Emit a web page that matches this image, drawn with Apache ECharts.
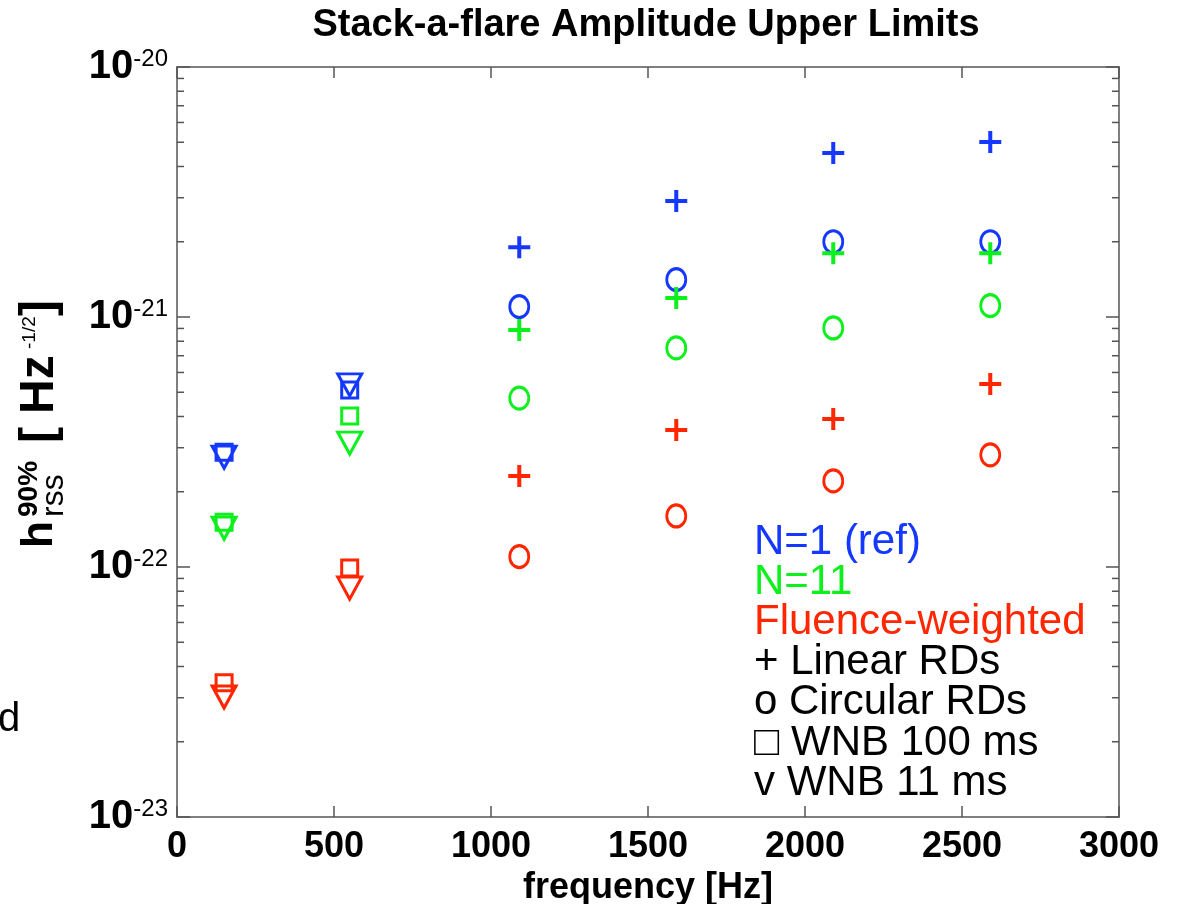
<!DOCTYPE html>
<html>
<head>
<meta charset="utf-8">
<script src="https://cdn.jsdelivr.net/npm/echarts@6/dist/echarts.min.js"></script>
<style>
  html, body { margin: 0; padding: 0; background: #fff; }
  #main { width: 1179px; height: 904px; }
</style>
</head>
<body>
<div id="main"></div>
<script>
// frequencies [Hz]
const freqRD  = [1090, 1590, 2090, 2590];
const freqWNB = [150, 550];

// h_rss 90% upper limits
const blueLinear   = [1.90e-21, 2.91e-21, 4.53e-21, 5.01e-21];
const blueCircular = [1.10e-21, 1.41e-21, 2.00e-21, 2.00e-21];
const blueWnb100   = [2.88e-22, 5.10e-22];
const blueWnb11    = [2.75e-22, 5.35e-22];

const greenLinear   = [8.87e-22, 1.19e-21, 1.80e-21, 1.80e-21];
const greenCircular = [4.74e-22, 7.52e-22, 9.04e-22, 1.11e-21];
const greenWnb100   = [1.51e-22, 4.02e-22];
const greenWnb11    = [1.43e-22, 3.13e-22];

const redLinear   = [2.31e-22, 3.53e-22, 3.91e-22, 5.40e-22];
const redCircular = [1.10e-22, 1.60e-22, 2.21e-22, 2.81e-22];
const redWnb100   = [3.44e-23, 9.90e-23];
const redWnb11    = [3.02e-23, 8.24e-23];

// decade tick values of the y axis
const yTicks = [1e-23, 1e-22, 1e-21, 1e-20];

const BLUE = '#1438ff', GREEN = '#0cf01c', RED = '#ff2600';

const legendLines = [
    ['N=1 (ref)', BLUE],
    ['N=11', GREEN],
    ['Fluence-weighted', RED],
    ['+ Linear RDs', '#000'],
    ['o Circular RDs', '#000'],
    ['\u25a1 WNB 100 ms', '#000'],
    ['v WNB 11 ms', '#000']
];

const FONT = '"Liberation Sans", Arial, Helvetica, sans-serif';
const AXIS_COLOR = '#555';

const chart = echarts.init(document.getElementById('main'));

function pairs(xs, ys) {
    return xs.map((x, i) => [x, ys[i]]);
}

const PLUS = 'path://M0,-10L0,10M-10,0L10,0';

function markerSeries(name, xs, ys, color, kind) {
    let s = {
        name: name,
        type: 'scatter',
        data: pairs(xs, ys),
        itemStyle: { color: 'transparent', borderColor: color, borderWidth: 3, opacity: 1 },
        z: 3
    };
    if (kind === 'plus') {
        s.symbol = PLUS;
        s.symbolSize = [22, 22];
        s.itemStyle.borderWidth = 4;
    } else if (kind === 'circle') {
        s.symbol = 'circle';
        s.symbolSize = [19, 22];
    } else if (kind === 'square') {
        s.symbol = 'rect';
        s.symbolSize = [16, 16];
    } else {
        s.symbol = 'triangle';
        s.symbolRotate = 180;
        s.symbolSize = [24, 22];
    }
    return s;
}

// minor tick positions on the log axis
let minorTicks = [];
for (let e = -23; e < -20; e++) {
    for (let m = 2; m <= 9; m++) {
        minorTicks.push([0, m * Math.pow(10, e)]);
    }
}

const minorTickSeries = {
    type: 'custom',
    silent: true,
    clip: false,
    data: minorTicks,
    renderItem: function (params, api) {
        const cs = params.coordSys;
        const y = api.coord([0, api.value(1)])[1];
        const style = { stroke: AXIS_COLOR, lineWidth: 1.5 };
        return {
            type: 'group',
            children: [
                { type: 'line', shape: { x1: cs.x, y1: y, x2: cs.x + 7, y2: y }, style: style },
                { type: 'line', shape: { x1: cs.x + cs.width, y1: y, x2: cs.x + cs.width - 7, y2: y }, style: style }
            ]
        };
    }
};

const yLabelGroup = {
    type: 'group',
    x: 40,
    y: 548,
    rotation: Math.PI / 2,
    children: [
        { type: 'text', x: 0, y: 0, style: { text: 'h', font: 'bold 44px ' + FONT, textVerticalAlign: 'middle' } },
        { type: 'text', x: 31, y: -11, style: { text: '90%', font: 'bold 28px ' + FONT, textVerticalAlign: 'middle' } },
        { type: 'text', x: 31, y: 14, style: { text: 'rss', font: '32px ' + FONT, textVerticalAlign: 'middle' } },
        { type: 'text', x: 105, y: 0, style: { text: '[', font: 'bold 48px ' + FONT, textVerticalAlign: 'middle' } },
        { type: 'text', x: 134, y: 0, style: { text: 'Hz', font: 'bold 48px ' + FONT, textVerticalAlign: 'middle' } },
        { type: 'text', x: 199, y: -10, style: { text: '-1/2', font: '19px ' + FONT, textVerticalAlign: 'middle' } },
        { type: 'text', x: 232, y: 0, style: { text: ']', font: 'bold 48px ' + FONT, textVerticalAlign: 'middle' } }
    ]
};

let graphics = [
    {
        type: 'text', x: 646, y: 26,
        style: { text: 'Stack-a-flare Amplitude Upper Limits', font: 'bold 38px ' + FONT,
                 textAlign: 'center', textVerticalAlign: 'middle', fill: '#000' }
    },
    {
        type: 'text', x: -2, y: 720,
        style: { text: 'd', font: '40px ' + FONT, textVerticalAlign: 'middle', fill: '#000' }
    },
    yLabelGroup
];
legendLines.forEach((l, i) => {
    graphics.push({
        type: 'text', x: 754, y: 542 + i * 40.2,
        style: { text: l[0], font: '42px ' + FONT, textVerticalAlign: 'middle', fill: l[1] }
    });
});

const logLabel = {
    inside: false,
    margin: 9,
    showMinLabel: true,
    showMaxLabel: true,
    hideOverlap: false,
    customValues: yTicks,
    formatter: v => '{b|10}{s|' + Math.round(Math.log10(v)) + '}',
    rich: {
        b: { fontSize: 40, fontWeight: 'bold', fontFamily: FONT, color: '#000', lineHeight: 40 },
        s: { fontSize: 24, fontFamily: FONT, color: '#000', lineHeight: 24, verticalAlign: 'top' }
    }
};

const tickStyle = { inside: true, length: 11, lineStyle: { color: AXIS_COLOR, width: 1.5 } };
const lineStyle = { show: true, onZero: false, lineStyle: { color: AXIS_COLOR, width: 1.5 } };
const yTickStyle = { show: true, inside: true, length: 13, customValues: yTicks,
                     lineStyle: { color: AXIS_COLOR, width: 1.5 } };

const option = {
    animation: false,
    backgroundColor: '#fff',
    grid: { left: 177, right: 60, top: 67, bottom: 87, containLabel: false, outerBoundsMode: 'none' },
    xAxis: [
        {
            type: 'value', min: 0, max: 3000, interval: 500,
            name: 'frequency [Hz]', nameLocation: 'middle', nameGap: 48,
            nameTextStyle: { fontSize: 36, fontWeight: 'bold', fontFamily: FONT, color: '#000' },
            axisLine: lineStyle,
            axisTick: tickStyle,
            axisLabel: { margin: 16, lineHeight: 28, fontSize: 36, fontWeight: 'bold', fontFamily: FONT, color: '#000',
                         formatter: v => String(v), showMinLabel: true, showMaxLabel: true },
            splitLine: { show: false }
        },
        {
            type: 'value', min: 0, max: 3000, interval: 500, position: 'top',
            axisLine: lineStyle,
            axisTick: tickStyle,
            axisLabel: { show: false },
            splitLine: { show: false }
        }
    ],
    yAxis: [
        {
            type: 'log', logBase: 10, min: 1e-23, max: 1e-20,
            axisLine: lineStyle,
            axisTick: yTickStyle,
            axisLabel: logLabel,
            splitLine: { show: false }
        },
        {
            type: 'log', logBase: 10, min: 1e-23, max: 1e-20, position: 'right',
            axisLine: lineStyle,
            axisTick: yTickStyle,
            axisLabel: { show: false },
            splitLine: { show: false }
        }
    ],
    graphic: graphics,
    series: [
        minorTickSeries,
        markerSeries('N=1 linear', freqRD, blueLinear, BLUE, 'plus'),
        markerSeries('N=1 circular', freqRD, blueCircular, BLUE, 'circle'),
        markerSeries('N=1 WNB 100', freqWNB, blueWnb100, BLUE, 'square'),
        markerSeries('N=1 WNB 11', freqWNB, blueWnb11, BLUE, 'triangle'),
        markerSeries('N=11 linear', freqRD, greenLinear, GREEN, 'plus'),
        markerSeries('N=11 circular', freqRD, greenCircular, GREEN, 'circle'),
        markerSeries('N=11 WNB 100', freqWNB, greenWnb100, GREEN, 'square'),
        markerSeries('N=11 WNB 11', freqWNB, greenWnb11, GREEN, 'triangle'),
        markerSeries('FW linear', freqRD, redLinear, RED, 'plus'),
        markerSeries('FW circular', freqRD, redCircular, RED, 'circle'),
        markerSeries('FW WNB 100', freqWNB, redWnb100, RED, 'square'),
        markerSeries('FW WNB 11', freqWNB, redWnb11, RED, 'triangle')
    ]
};

chart.setOption(option);

window.addEventListener('resize', () => {
    chart.resize();
});
</script>
</body>
</html>
